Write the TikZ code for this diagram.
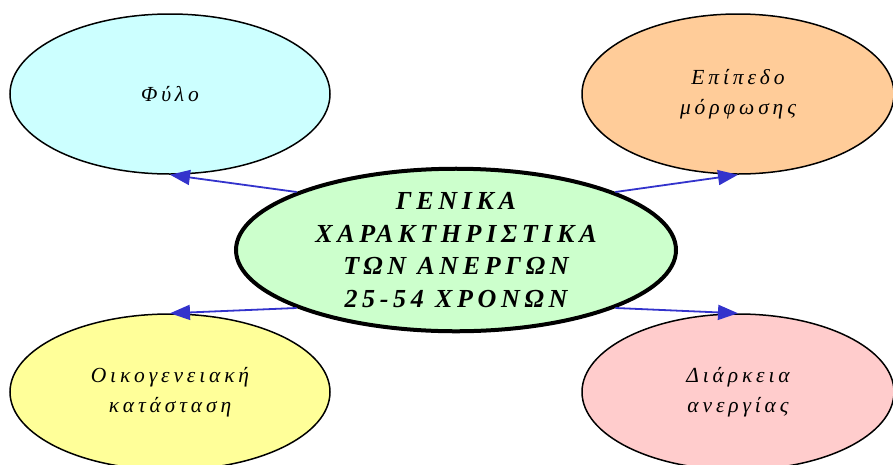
\documentclass[tikz,border=0pt]{standalone}
\usepackage{fontspec}
\setmainfont{Liberation Serif}
\newfontfamily\gfont[LetterSpace=18]{Liberation Serif}
\usetikzlibrary{shapes.geometric,arrows.meta}
\definecolor{cyanf}{HTML}{CCFFFF}
\definecolor{orangef}{HTML}{FFCC99}
\definecolor{yellowf}{HTML}{FFFF99}
\definecolor{pinkf}{HTML}{FFCCCC}
\definecolor{greenf}{HTML}{CCFFCC}
\definecolor{conncol}{HTML}{3333CC}
\tikzset{
  outer/.style={ellipse, draw=black, line width=1.5pt, minimum width=320pt, minimum height=160pt, inner sep=0pt, align=center, font=\gfont\fontsize{21.5}{30}\selectfont\itshape},
  central/.style={ellipse, draw=black, line width=4pt, minimum width=440pt, minimum height=150pt, inner sep=0pt, align=center, font=\gfont\fontsize{26}{32.5}\selectfont\bfseries\itshape},
  conn/.style={draw=conncol, line width=1.8pt, -{Triangle[length=20pt,width=15pt]}}
}
\begin{document}
\begin{tikzpicture}[x=1pt,y=-1pt]
\useasboundingbox (0,0) rectangle (893,464);
\node[outer, fill=cyanf] (fl) at (170,94) {Φύλο};
\node[outer, fill=orangef, minimum width=312pt] (ep) at (738,94) {Επίπεδο\\μόρφωσης};
\node[outer, fill=yellowf, minimum height=156pt] (oik) at (170,392) {Οικογενειακή\\κατάσταση};
\node[outer, fill=pinkf, minimum width=312pt, minimum height=156pt] (di) at (738,392) {Διάρκεια\\ανεργίας};
\node[central, fill=greenf] (c) at (456,250) {ΓΕΝΙΚΑ\\ΧΑΡΑΚΤΗΡΙΣΤΙΚΑ\\ΤΩΝ ΑΝΕΡΓΩΝ\\25-54 ΧΡΟΝΩΝ};
\draw[conn] (c.160) -- (fl.south);
\draw[conn] (c.20) -- (ep.south);
\draw[conn] (c.200) -- (oik.north);
\draw[conn] (c.340) -- (di.north);
\end{tikzpicture}
\end{document}
